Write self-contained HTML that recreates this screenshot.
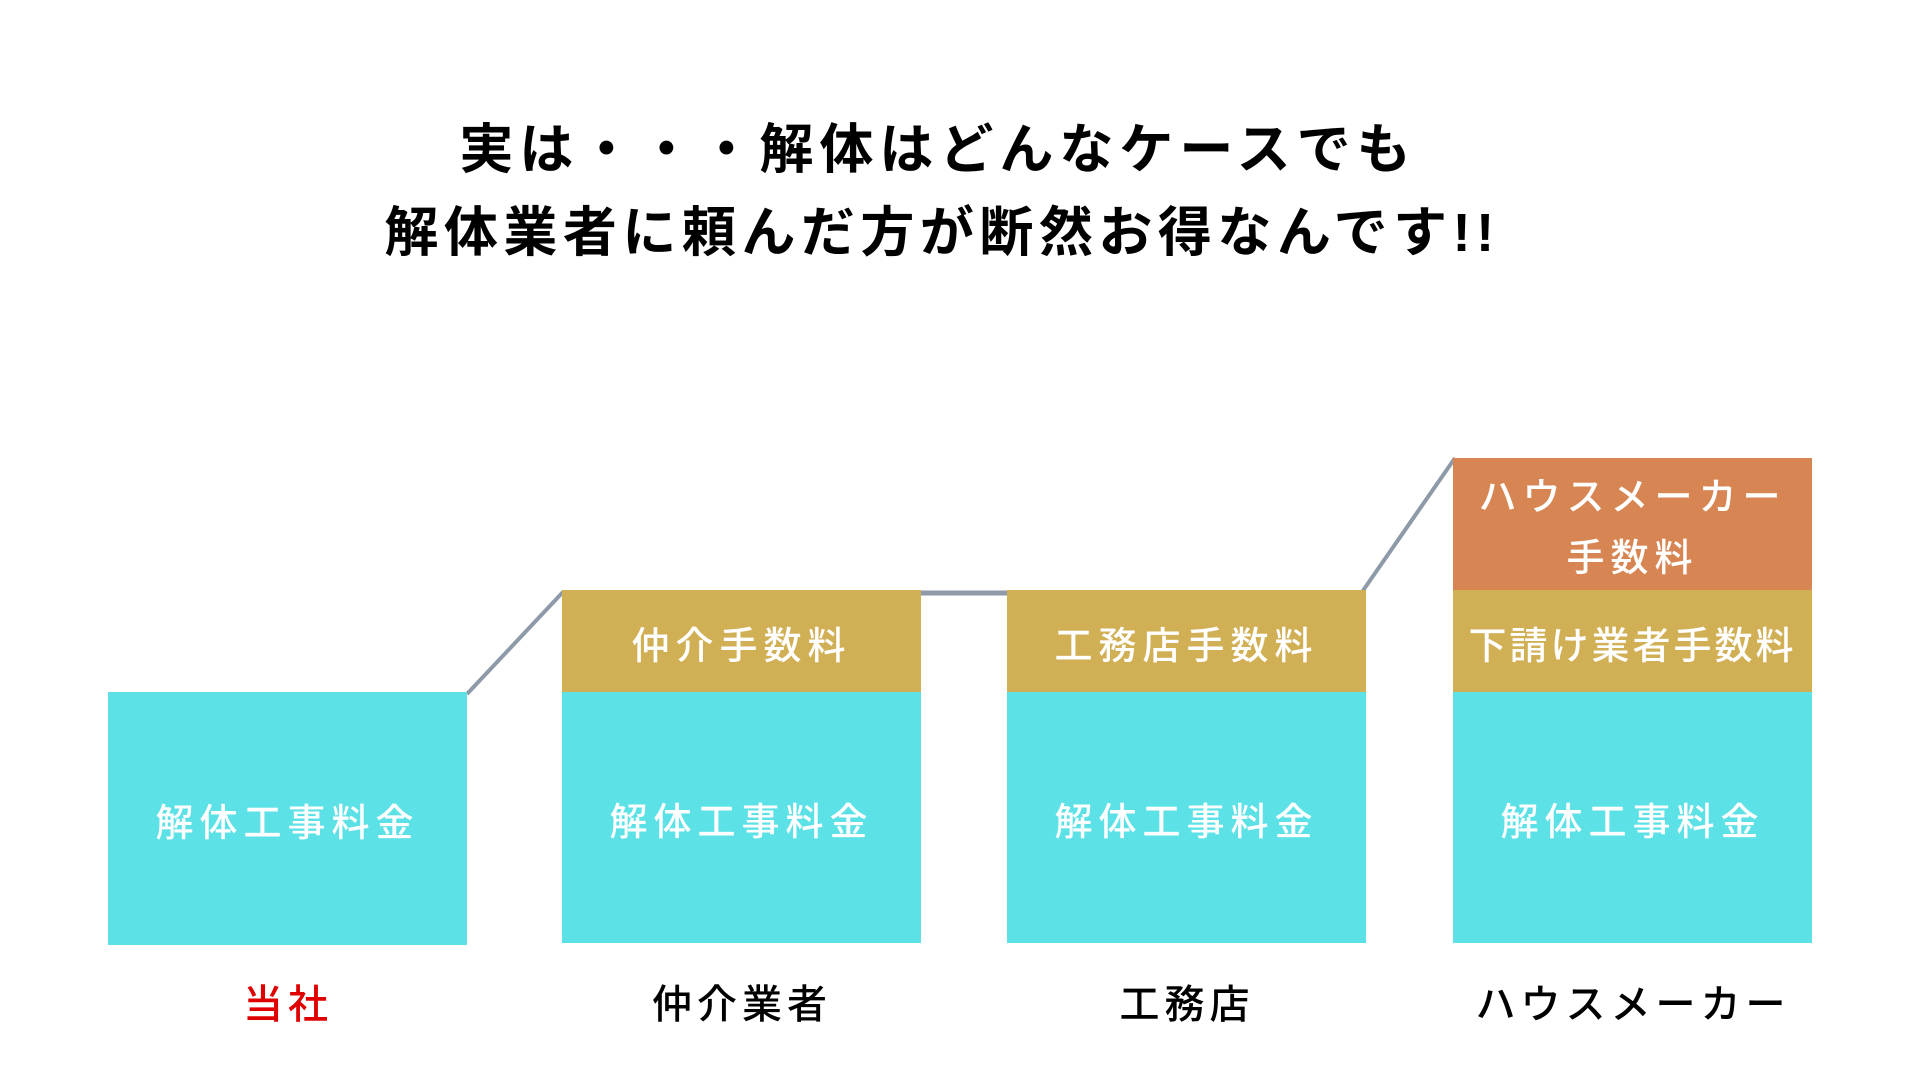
<!DOCTYPE html>
<html><head><meta charset="utf-8"><style>
body{margin:0;width:1920px;height:1080px;background:#fff;position:relative;overflow:hidden;font-family:"Liberation Sans","Noto Sans CJK JP",sans-serif;}
.t{position:absolute;left:0;width:1920px;text-align:center;color:#000;font-size:54px;font-weight:700;letter-spacing:6px;line-height:1;}
.b{position:absolute;display:flex;align-items:center;justify-content:center;color:#fff;font-size:38px;letter-spacing:6px;text-align:center;line-height:1.6;padding-top:12px;box-sizing:border-box;font-weight:500;}
.c{background:#5ce1e6}.g{background:#d1af55}.o{background:#d68553}
.l{position:absolute;width:440px;text-align:center;font-size:40px;letter-spacing:5px;line-height:1;font-weight:500;}
</style></head><body>
<div class="t" style="top:123px;left:-22px">実は・・・解体はどんなケースでも</div>
<div class="t" style="top:206px;left:-18px;letter-spacing:5.5px">解体業者に頼んだ方が断然お得なんです!!</div>
<svg width="1920" height="1080" style="position:absolute;left:0;top:0">
<line x1="467" y1="694" x2="563" y2="592" stroke="#8e9aa8" stroke-width="4"/>
<line x1="921" y1="593" x2="1007" y2="593" stroke="#8e9aa8" stroke-width="5"/>
<line x1="1362" y1="592" x2="1455" y2="458" stroke="#8e9aa8" stroke-width="4"/>
</svg>
<div class="b c" style="left:108px;top:692px;width:359px;height:253px">解体工事料金</div>
<div class="b g" style="left:562px;top:590px;width:359px;height:102px">仲介手数料</div>
<div class="b c" style="left:562px;top:692px;width:359px;height:251px">解体工事料金</div>
<div class="b g" style="left:1007px;top:590px;width:359px;height:102px">工務店手数料</div>
<div class="b c" style="left:1007px;top:692px;width:359px;height:251px">解体工事料金</div>
<div class="b o" style="left:1453px;top:458px;width:359px;height:132px;padding-top:10px">ハウスメーカー<br>手数料</div>
<div class="b g" style="left:1453px;top:590px;width:359px;height:102px;letter-spacing:3px">下請け業者手数料</div>
<div class="b c" style="left:1453px;top:692px;width:359px;height:251px">解体工事料金</div>
<div class="l" style="left:68px;top:985px;color:#e00000">当社</div>
<div class="l" style="left:522px;top:985px">仲介業者</div>
<div class="l" style="left:967px;top:985px">工務店</div>
<div class="l" style="left:1413px;top:985px">ハウスメーカー</div>
</body></html>
